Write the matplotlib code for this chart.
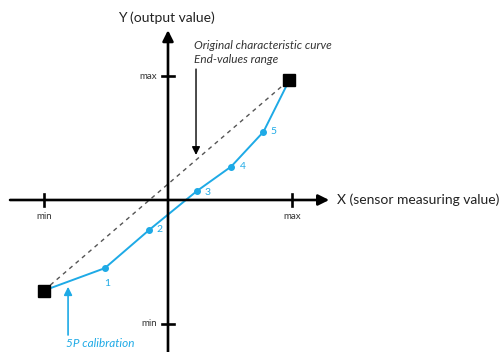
import matplotlib
matplotlib.use("Agg")
import matplotlib.pyplot as plt

# Data (normalized: min=-1, max=+1 on both axes)
cal_x = [-0.51, -0.15, 0.23, 0.51, 0.77]
cal_y = [-0.55, -0.24, 0.07, 0.27, 0.55]
cal_labels = ["1", "2", "3", "4", "5"]
end_x = [-1.0, 0.98]
end_y = [-0.73, 0.97]
tick_labels = ["min", "max"]
tick_vals = [-1, 1]

BLUE = "#1EAAE6"
plt.rcParams['font.family'] = ['Lato', 'DejaVu Sans']

fig = plt.figure(figsize=(5.02, 3.52), dpi=100)
ax = fig.add_axes([0, 0, 1, 1])
ax.set_xlim(-1.355, 2.694)
ax.set_ylim(-1.226, 1.613)
ax.axis('off')

# axes with arrows
ax.annotate('', xy=(1.30, 0), xytext=(-1.274, 0),
            arrowprops=dict(arrowstyle='-|>', lw=1.9, color='black', mutation_scale=16, shrinkA=0, shrinkB=0))
ax.annotate('', xy=(0, 1.37), xytext=(0, -1.30),
            arrowprops=dict(arrowstyle='-|>', lw=1.9, color='black', mutation_scale=16, shrinkA=0, shrinkB=0))

# ticks
for v, lab in zip(tick_vals, tick_labels):
    ax.plot([v, v], [-0.045, 0.045], color='black', lw=1.9)
    ax.text(v, -0.13, lab, ha='center', va='center', fontsize=7, color='#333333')
for v, lab in zip(tick_vals, tick_labels):
    ax.plot([-0.045, 0.045], [v, v], color='black', lw=1.9)
    ax.text(-0.085, v, lab, ha='right', va='center', fontsize=7, color='#333333')

# dashed original curve
ax.plot(end_x, end_y, linestyle=(0, (3, 3)), color='#555555', lw=1.0)

# calibration curve
cx = [end_x[0]] + cal_x + [end_x[1]]
cy = [end_y[0]] + cal_y + [end_y[1]]
ax.plot(cx, cy, color=BLUE, lw=1.4)
ax.plot(cal_x, cal_y, 'o', color=BLUE, ms=4)
ax.plot(end_x, end_y, 's', color='black', ms=8)

offsets = [(0.02, -0.12), (0.08, 0.0), (0.09, -0.01), (0.09, 0.0), (0.08, 0.0)]
for x, y, lab, (dx, dy) in zip(cal_x, cal_y, cal_labels, offsets):
    ax.text(x + dx, y + dy, lab, color=BLUE, fontsize=7.5, ha='center', va='center')

# labels
ax.text(-0.016, 1.468, "Y (output value)", ha='center', va='center', fontsize=10, color='#222222')
ax.text(1.363, 0, "X (sensor measuring value)", ha='left', va='center', fontsize=10, color='#222222')
ax.text(0.21, 1.242, "Original characteristic curve", ha='left', va='center', fontsize=8.5, style='italic', color='#333333')
ax.text(0.21, 1.137, "End-values range", ha='left', va='center', fontsize=8.5, style='italic', color='#333333')

# black arrow
ax.annotate('', xy=(0.226, 0.363), xytext=(0.226, 1.056),
            arrowprops=dict(arrowstyle='-|>', lw=1.0, color='black', mutation_scale=12, shrinkA=0, shrinkB=0))
# blue arrow
ax.annotate('', xy=(-0.806, -0.70), xytext=(-0.806, -1.089),
            arrowprops=dict(arrowstyle='-|>', lw=1.2, color=BLUE, mutation_scale=12, shrinkA=0, shrinkB=0))
ax.text(-0.823, -1.161, "5P calibration", ha='left', va='center', fontsize=8.5, style='italic', color=BLUE)

fig.savefig("out.png", dpi=100)
